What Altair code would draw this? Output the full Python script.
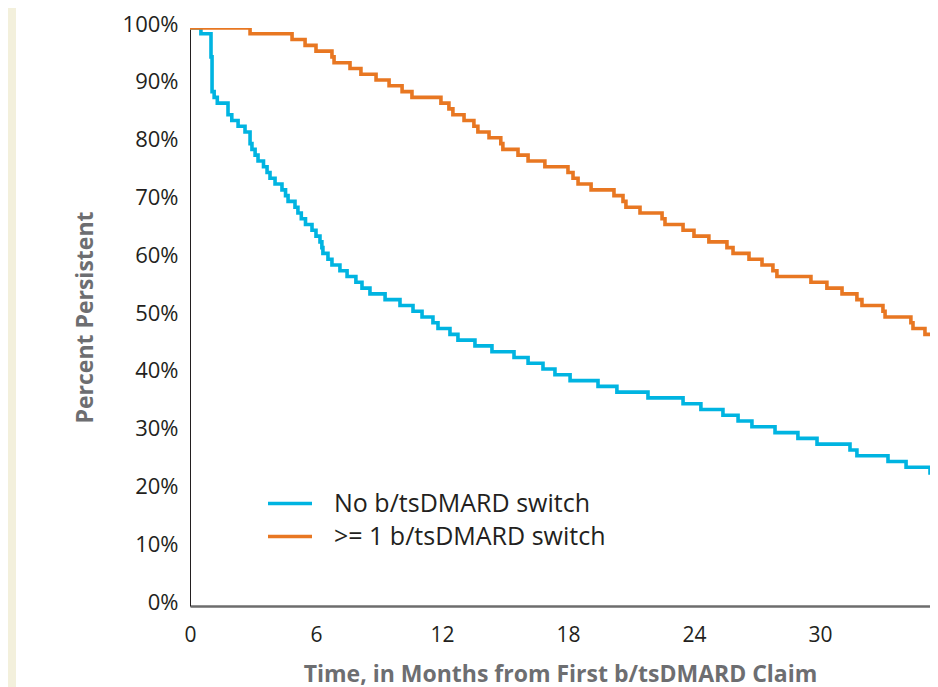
import altair as alt
import pandas as pd

series_names = ["No b/tsDMARD switch", ">= 1 b/tsDMARD switch"]
series_colors = ["#00B4E1", "#E87722"]

# Kaplan-Meier style step curves (months, percent persistent)
blue_t = [0, 0.52, 1.0, 1.05, 1.15, 1.3, 1.81, 1.99, 2.29, 2.62, 2.86, 2.95,
          3.1, 3.24, 3.5, 3.67, 3.81, 4.05, 4.38, 4.55, 4.67, 5.0, 5.14, 5.3,
          5.5, 5.81, 6.0, 6.19, 6.28, 6.33, 6.57, 6.76, 7.14, 7.48, 7.9, 8.19,
          8.57, 9.29, 10.0, 10.62, 11.05, 11.57, 11.81, 12.38, 12.76, 13.57, 14.38, 15.43,
          16.1, 16.81, 17.38, 18.1, 19.43, 20.33, 21.81, 23.48, 24.33, 25.38, 26.1, 26.76,
          27.86, 28.95, 29.86, 31.43, 31.76, 33.24, 34.1, 35.24, 35.57, 35.7]
blue_v = [100, 99, 95, 89, 88, 87, 85, 84, 83, 82, 80, 79,
          78, 77, 76, 75, 74, 73, 72, 71, 70, 69, 68, 67,
          66, 65, 64, 63, 62, 61, 60, 59, 58, 57, 56, 55,
          54, 53, 52, 51, 50, 49, 48, 47, 46, 45, 44, 43,
          42, 41, 40, 39, 38, 37, 36, 35, 34, 33, 32, 31,
          30, 29, 28, 27, 26, 25, 24, 23, 22, 22]

orange_t = [0, 2.86, 4.86, 5.48, 6.0, 6.76, 6.86, 7.62, 8.14, 8.86, 9.48, 10.1,
            10.57, 11.95, 12.33, 12.52, 13.05, 13.52, 13.71, 14.24, 14.8, 14.9, 15.62, 16.1,
            16.9, 18.0, 18.24, 18.48, 19.1, 20.19, 20.62, 20.76, 21.43, 22.48, 22.62, 23.48,
            24.0, 24.71, 25.57, 25.86, 26.62, 27.24, 27.76, 27.95, 29.57, 30.33, 31.05, 31.76,
            32.0, 33.0, 33.1, 34.33, 34.43, 35.0, 35.7]
orange_v = [100, 99, 98, 97, 96, 95, 94, 93, 92, 91, 90, 89,
            88, 87, 86, 85, 84, 83, 82, 81, 80, 79, 78, 77,
            76, 75, 74, 73, 72, 71, 70, 69, 68, 67, 66, 65,
            64, 63, 62, 61, 60, 59, 58, 57, 56, 55, 54, 53,
            52, 51, 50, 49, 48, 47, 47]

x_ticks = [0, 6, 12, 18, 24, 30, 36]
y_ticks = [0, 10, 20, 30, 40, 50, 60, 70, 80, 90, 100]
x_max = 35.24  # visible part of the time axis

x_title = "Time, in Months from First b/tsDMARD Claim"
y_title = "Percent Persistent"

W = 740
H = 578
BOTTOM = 86

rows = []
for t, v in zip(blue_t, blue_v):
    rows.append({"t": t, "v": v, "series": series_names[0]})
for t, v in zip(orange_t, orange_v):
    rows.append({"t": t, "v": v, "series": series_names[1]})
df = pd.DataFrame(rows)

FONT = "Open Sans"

strip = alt.Chart(pd.DataFrame({"a": [0]})).mark_rect(color="#F3F0DC").encode(
    x=alt.value(-182), x2=alt.value(-174), y=alt.value(-20), y2=alt.value(H + BOTTOM)
)

lines = alt.Chart(df).mark_line(interpolate="step-after", strokeWidth=3.6, clip=True).encode(
    x=alt.X(
        "t:Q",
        scale=alt.Scale(domain=[0, x_max], nice=False, zero=False),
        axis=alt.Axis(
            values=x_ticks, title=x_title, grid=False, ticks=False, tickSize=0,
            domainColor="#6D6D6D", domainWidth=2.5,
            labelFont=FONT, labelFontSize=21, labelColor="#231F20",
            labelBaseline="alphabetic", labelPadding=35, labelFlush=False,
            titleFont=FONT, titleFontSize=23, titleFontWeight="bold", titleColor="#6D6E71",
            titleBaseline="alphabetic", titleY=75,
        ),
    ),
    y=alt.Y(
        "v:Q",
        scale=alt.Scale(domain=[0, 100], nice=False),
        axis=alt.Axis(
            values=y_ticks, labelExpr="datum.value + '%'", title=y_title, grid=False,
            ticks=False, tickSize=0, domainColor="#231F20", domainWidth=1,
            labelFont=FONT, labelFontSize=22, labelColor="#231F20",
            labelBaseline="alphabetic", labelOffset=3, labelPadding=12,
            titleFont=FONT, titleFontSize=23, titleFontWeight="bold", titleColor="#6D6E71",
            titleBaseline="alphabetic", titleX=-98, titleY=H / 2,
        ),
    ),
    color=alt.Color(
        "series:N",
        scale=alt.Scale(domain=series_names, range=series_colors),
        legend=alt.Legend(
            title=None, orient="none", legendX=76, legendY=459, padding=0,
            symbolType="stroke", symbolSize=1936, symbolStrokeWidth=3.6,
            labelFont=FONT, labelFontSize=25, labelColor="#231F20", labelOffset=20,
            labelLimit=500, rowPadding=0, clipHeight=33,
        ),
    ),
)

chart = alt.layer(strip, lines).properties(
    width=W,
    height=H,
    padding={"left": 182, "top": 20, "right": 0, "bottom": BOTTOM},
    autosize=alt.AutoSizeParams(type="none"),
    background="white",
).configure_view(stroke=None)

chart.save("out.html", embed_options={"renderer": "svg", "actions": False})
